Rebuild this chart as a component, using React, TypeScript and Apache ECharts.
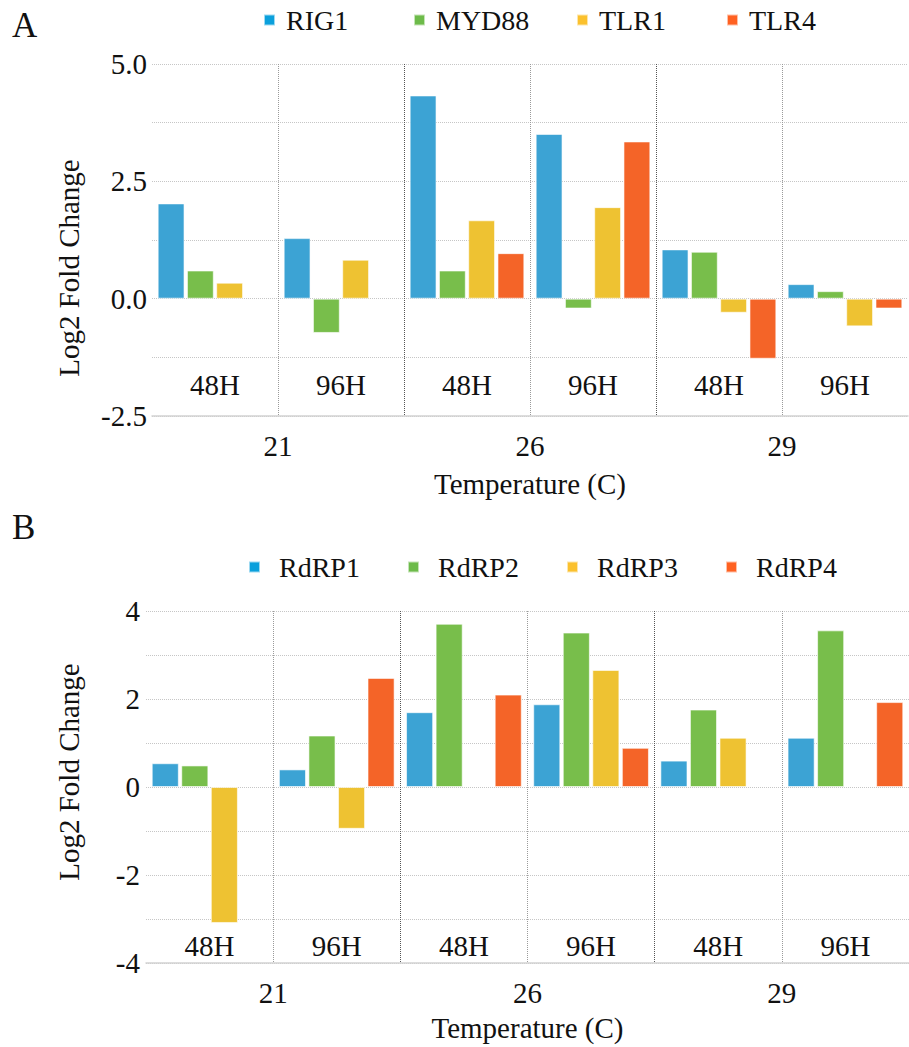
import React, { useEffect, useRef } from "react";
import * as echarts from "echarts";

// Category axes: sampling time (inner row) and rearing temperature (outer row)
const hours = ["48H", "96H", "48H", "96H", "48H", "96H"];
const temperatures = ["21", "26", "29"];

// Panel A: immune genes, log2 fold change
const immuneGenes = ["RIG1", "MYD88", "TLR1", "TLR4"];
const rig1 = [2.03, 1.29, 4.33, 3.51, 1.05, 0.31];
const myd88 = [0.6, -0.73, 0.6, -0.21, 1.0, 0.16];
const tlr1 = [0.34, 0.83, 1.67, 1.95, -0.3, -0.59];
const tlr4 = [null, null, 0.97, 3.35, -1.28, -0.21];

// Panel B: viral RdRP segments, log2 fold change
const rdrpGenes = ["RdRP1", "RdRP2", "RdRP3", "RdRP4"];
const rdrp1 = [0.54, 0.4, 1.7, 1.88, 0.6, 1.12];
const rdrp2 = [0.49, 1.17, 3.71, 3.51, 1.76, 3.56];
const rdrp3 = [-3.09, -0.95, null, 2.66, 1.12, null];
const rdrp4 = [null, 2.48, 2.1, 0.89, null, 1.93];

// Value-axis ranges: grid step and labelled step
const axisA = { min: -2.5, max: 5, grid: 1.25, label: 2.5, digits: 1 };
const axisB = { min: -4, max: 4, grid: 1, label: 2, digits: 0 };

const barColors = ["#3ca3d4", "#78be4b", "#eec232", "#f46428"];
const legendColors = ["#0ba0dc", "#6dbb4a", "#fbc12e", "#ff6121"];

const FONT = "Liberation Serif";
const INK = "#111111";
const LABEL_SIZE = 29;
const LEGEND_SIZE = 28;

type Panel = {
  names: string[];
  values: (number | null)[][];
  axis: typeof axisA;
  grid: { left: number; top: number; height: number; right: number };
  legendLeft: number[];
  legendTop: number;
  legendTextPad: number;
  yLabelMargin: number;
  hourMargin: number;
  tempMargin: number;
  nameGap: number;
  yName: { x: number; y: number };
  tag: { text: string; y: number };
};

const panels: Panel[] = [
  {
    names: immuneGenes,
    values: [rig1, myd88, tlr1, tlr4],
    axis: axisA,
    grid: { left: 152, top: 64, height: 352, right: 1 },
    legendLeft: [263, 413, 576, 726],
    legendTop: 6,
    legendTextPad: 6,
    yLabelMargin: 5,
    hourMargin: 17,
    tempMargin: 15,
    nameGap: 53,
    yName: { x: 69, y: 268 },
    tag: { text: "A", y: 25 },
  },
  {
    names: rdrpGenes,
    values: [rdrp1, rdrp2, rdrp3, rdrp4],
    axis: axisB,
    grid: { left: 146, top: 611, height: 352, right: 0 },
    legendLeft: [248, 407, 566, 725],
    legendTop: 553,
    legendTextPad: 14,
    yLabelMargin: 6,
    hourMargin: 3,
    tempMargin: 15,
    nameGap: 50,
    yName: { x: 69, y: 772 },
    tag: { text: "B", y: 527 },
  },
];

function isStep(v: number, step: number) {
  const r = v / step;
  return Math.abs(r - Math.round(r)) < 1e-6;
}

function buildOption(): echarts.EChartsOption {
  const grid: any[] = [];
  const xAxis: any[] = [];
  const yAxis: any[] = [];
  const series: any[] = [];
  const legend: any[] = [];
  const graphic: any[] = [];

  panels.forEach((p, pi) => {
    grid.push({ ...p.grid });

    // inner row: 48H / 96H drawn inside the plot above the axis line
    xAxis.push({
      type: "category",
      gridIndex: pi,
      data: hours,
      position: "bottom",
      axisLine: { onZero: false, lineStyle: { color: "#d2d2d2", width: 1.5 } },
      axisTick: { show: false },
      axisLabel: {
        inside: true,
        margin: p.hourMargin,
        interval: 0,
        fontSize: LABEL_SIZE,
        fontFamily: FONT,
        color: INK,
      },
      splitLine: {
        show: true,
        interval: 0,
        showMinLine: false,
        showMaxLine: false,
        lineStyle: { type: "dotted", color: "#9a9a9a", width: 1 },
      },
    });

    // outer row: temperatures with darker dividers
    xAxis.push({
      type: "category",
      gridIndex: pi,
      data: temperatures,
      position: "bottom",
      axisLine: { show: false, onZero: false },
      axisTick: { show: false },
      axisLabel: {
        margin: p.tempMargin,
        interval: 0,
        fontSize: LABEL_SIZE,
        fontFamily: FONT,
        color: INK,
      },
      splitLine: {
        show: true,
        interval: 0,
        showMinLine: false,
        showMaxLine: false,
        lineStyle: { type: "dotted", color: "#555555", width: 1 },
      },
      name: "Temperature (C)",
      nameLocation: "middle",
      nameGap: p.nameGap,
      nameTextStyle: { fontSize: LABEL_SIZE, fontFamily: FONT, color: INK },
    });

    const ax = p.axis;
    yAxis.push({
      type: "value",
      gridIndex: pi,
      min: ax.min,
      max: ax.max,
      interval: ax.grid,
      axisLine: { show: false },
      axisTick: { show: false },
      axisLabel: {
        margin: p.yLabelMargin,
        fontSize: LABEL_SIZE,
        fontFamily: FONT,
        color: INK,
        formatter: (v: number) => (isStep(v, ax.label) ? v.toFixed(ax.digits) : ""),
      },
      splitLine: { lineStyle: { type: "dotted", color: "#c6c6c6", width: 1 } },
    });

    p.names.forEach((name, si) => {
      series.push({
        type: "bar",
        name,
        xAxisIndex: pi * 2,
        yAxisIndex: pi,
        data: p.values[si],
        barGap: "9%",
        barCategoryGap: "9%",
        itemStyle: {
          color: barColors[si],
          borderColor: "rgba(255,255,255,0.6)",
          borderWidth: 1,
        },
      });
      legend.push({
        data: [{ name, itemStyle: { color: legendColors[si] } }],
        left: p.legendLeft[si],
        top: p.legendTop,
        padding: 0,
        icon: "rect",
        itemWidth: 11,
        itemHeight: 11,
        selectedMode: false,
        textStyle: {
          fontSize: LEGEND_SIZE,
          fontFamily: FONT,
          color: INK,
          padding: [6, 0, 0, p.legendTextPad],
        },
      });
    });

    graphic.push({
      type: "text",
      x: 12,
      y: p.tag.y,
      style: {
        text: p.tag.text,
        fontSize: 35,
        fontFamily: FONT,
        fill: INK,
        verticalAlign: "middle",
      },
    });
    graphic.push({
      type: "text",
      x: p.yName.x,
      y: p.yName.y,
      rotation: Math.PI / 2,
      style: {
        text: "Log2 Fold Change",
        fontSize: LABEL_SIZE,
        fontFamily: FONT,
        fill: INK,
        align: "center",
        verticalAlign: "middle",
      },
    });
  });

  return {
    animation: false,
    backgroundColor: "#ffffff",
    grid,
    xAxis,
    yAxis,
    series,
    legend,
    graphic,
  };
}

export default function App() {
  const ref = useRef<HTMLDivElement>(null);

  useEffect(() => {
    if (!ref.current) return;
    const chart = echarts.init(ref.current, undefined, { renderer: "svg" });
    chart.setOption(buildOption());
    return () => chart.dispose();
  }, []);

  return (
    <div
      ref={ref}
      style={{ position: "fixed", left: 0, top: 0, width: 909, height: 1047 }}
    />
  );
}
